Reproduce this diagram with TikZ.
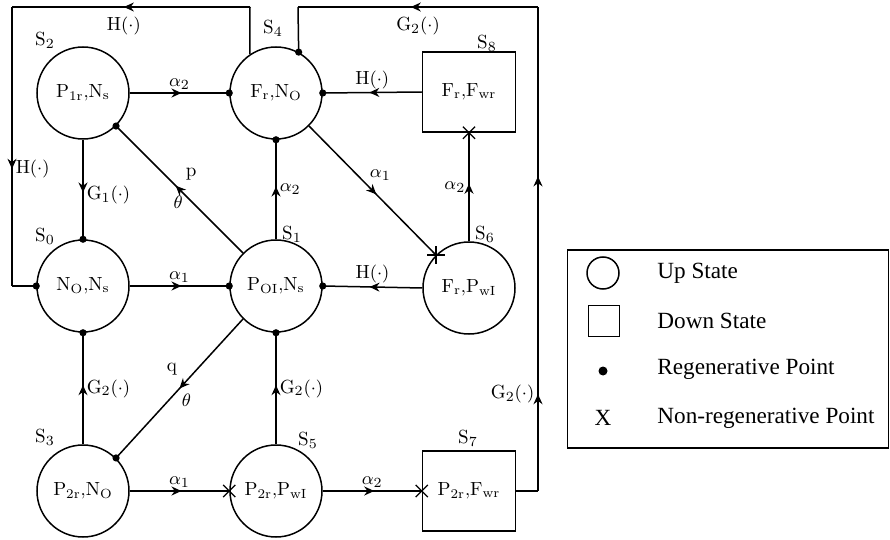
\documentclass[tikz,border=0pt]{standalone}
\usepackage{amsmath,amssymb}
\usepackage{fontspec}
\newfontfamily\legendfont{Liberation Serif}
\usetikzlibrary{arrows.meta,positioning,calc,shapes.misc,decorations.markings}

\begin{document}
\begin{tikzpicture}[x=0.5pt,y=-0.5pt,line width=0.75pt,
  every node/.style={font=\fontsize{9.5}{11}\selectfont},
  up/.style={draw,circle,minimum size=46pt,inner sep=0pt},
  down/.style={draw,rectangle,minimum width=46.5pt,minimum height=40pt,inner sep=0pt},
  midarrow/.style={postaction={decorate},decoration={markings,mark=at position #1 with {\arrow{Stealth[length=5pt,width=4.5pt]}}}},
  midarrow/.default=0.53,
  regen/.style={circle,fill,inner sep=0pt,minimum size=3.6pt},
  nonregen/.style={cross out,draw,inner sep=0pt,minimum size=5.5pt,line width=0.6pt},
  lbl/.style={inner sep=1.5pt}]
\useasboundingbox (0,0) rectangle (890,540);
% states
\node[up] (s2) at (83,93) {$\mathrm{P_{1r}{,}N_s}$};
\node[up] (s4) at (276,93) {$\mathrm{F_r{,}N_O}$};
\node[down] (s8) at (469,92) {$\mathrm{F_r{,}F_{wr}}$};
\node[up] (s0) at (83,286) {$\mathrm{N_O{,}N_s}$};
\node[up] (s1) at (276,286) {$\mathrm{P_{OI}{,}N_s}$};
\node[up] (s6) at (469,288) {$\mathrm{F_r{,}P_{wI}}$};
\node[up] (s3) at (83,491) {$\mathrm{P_{2r}{,}N_O}$};
\node[up] (s5) at (276,491) {$\mathrm{P_{2r}{,}P_{wI}}$};
\node[down] (s7) at (469,491) {$\mathrm{P_{2r}{,}F_{wr}}$};
% state names
\node (n2) at (45,40) {$\mathrm{S}_2$};
\node (n4) at (273,28) {$\mathrm{S}_4$};
\node (n8) at (487,43) {$\mathrm{S}_8$};
\node (n0) at (45,236) {$\mathrm{S}_0$};
\node (n1) at (292,234) {$\mathrm{S}_1$};
\node (n6) at (485,234) {$\mathrm{S}_6$};
\node (n3) at (45,437) {$\mathrm{S}_3$};
\node (n5) at (308,440) {$\mathrm{S}_5$};
\node (n7) at (468,438) {$\mathrm{S}_7$};
% transitions
\draw[midarrow=0.52] (s2.east) -- node[lbl,above,pos=0.5] {$\alpha_2$} (s4.west);
\draw[midarrow] (s2.south) -- node[lbl,right,pos=0.56] {$\mathrm{G}_1(\cdot)$} (s0.north);
\draw[midarrow] (s1.135) -- node[lbl,pos=0.51,above right=2pt and 2pt] {p} node[lbl,pos=0.46,below left=-1pt and -1pt] {$\theta$} (s2.-45);
\draw[midarrow] (s1.north) -- node[lbl,right,pos=0.5] {$\alpha_2$} (s4.south);
\draw[midarrow] (s4.-45) -- node[lbl,pos=0.45,above right=0pt and 0pt] {$\alpha_1$} (s6.135);
\draw[midarrow] (s6.north) -- node[lbl,left,pos=0.5] {$\alpha_2$} (s8.south);
\draw[midarrow] (s8.west) -- node[lbl,above,pos=0.5] {$\mathrm{H}(\cdot)$} (s4.east);
\draw[midarrow=0.52] (s0.east) -- node[lbl,above,pos=0.5] {$\alpha_1$} (s1.west);
\draw[midarrow] (s6.west) -- node[lbl,above,pos=0.5] {$\mathrm{H}(\cdot)$} (s1.east);
\draw[midarrow=0.5] (s1.225) -- node[lbl,pos=0.46,above left=2pt and 2pt] {q} node[lbl,pos=0.51,below right=0pt and 0pt] {$\theta$} (s3.45);
\draw[midarrow] (s3.north) -- node[lbl,right,pos=0.5] {$\mathrm{G}_2(\cdot)$} (s0.south);
\draw[midarrow] (s5.north) -- node[lbl,right,pos=0.5] {$\mathrm{G}_2(\cdot)$} (s1.south);
\draw[midarrow=0.52] (s3.east) -- node[lbl,above,pos=0.5] {$\alpha_1$} (s5.west);
\draw[midarrow=0.52] (s5.east) -- node[lbl,above,pos=0.5] {$\alpha_2$} (s7.west);
% outer loops
\coordinate (h1) at (250,7);
\coordinate (h2) at (12,7);
\coordinate (h3) at (12,286);
\draw (s4.124) -- (h1);
\draw[midarrow=0.53] (h1) -- node[lbl,below=3pt,pos=0.53] {$\mathrm{H}(\cdot)$} (h2);
\draw[midarrow=0.58] (h2) -- node[lbl,right,pos=0.58] {$\mathrm{H}(\cdot)$} (h3);
\draw (h3) -- (s0.west);
\coordinate (g1) at (538,491);
\coordinate (g2) at (538,7);
\coordinate (g3) at (298,7);
\draw (s7.east) -- (g1);
\draw[midarrow=0.2] (g1) -- node[lbl,left,pos=0.2] {$\mathrm{G}_2(\cdot)$} (g2);
\draw[midarrow=0.65] (g1) -- (g2);
\draw[midarrow=0.53] (g2) -- node[lbl,below=3pt,pos=0.5] {$\mathrm{G}_2(\cdot)$} (g3);
\draw (g3) -- (s4.61);
% points
\foreach \p in {s4.west,s4.south,s4.east,s4.61,s2.-45,s0.north,s0.south,s0.west,s1.west,s1.east,s1.south,s3.45}
  \node[regen] at (\p) {};
\node[nonregen] at (s8.south) {};
\node[nonregen] at (s5.west) {};
\node[nonregen] at (s7.west) {};
\node[nonregen,rotate=45] at (s6.135) {};
% legend
\node[draw,rectangle,minimum width=160.5pt,minimum height=99pt,inner sep=0pt] (key) at (728,349) {};
\node[draw,circle,minimum size=16pt,inner sep=0pt] (k1) at (603,273) {};
\node[draw,rectangle,minimum size=15.5pt,inner sep=0pt] (k2) at (604,321) {};
\node[regen,minimum size=4.5pt] (k3) at (603,371) {};
\node[font=\legendfont\fontsize{11.6}{14}\selectfont] (k4) at (603,418) {X};
\foreach \y/\t in {273/Up State,321/Down State,369/Regenerative Point,418/Non-regenerative Point}
  \node[anchor=west,font=\legendfont\fontsize{11.6}{14}\selectfont] at (650,\y) {\t};
\end{tikzpicture}
\end{document}
